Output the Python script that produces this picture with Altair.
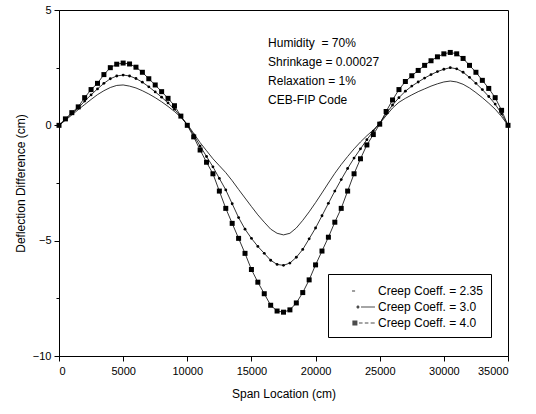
import altair as alt
import pandas as pd

# ---- data -------------------------------------------------------------
span = [0, 500, 1000, 1500, 2000, 2500, 3000, 3500, 4000, 4500,
        5000, 5500, 6000, 6500, 7000, 7500, 8000, 8500, 9000, 9500,
        10000, 10500, 11000, 11500, 12000, 12500, 13000, 13500, 14000, 14500,
        15000, 15500, 16000, 16500, 17000, 17500, 18000, 18500, 19000, 19500,
        20000, 20500, 21000, 21500, 22000, 22500, 23000, 23500, 24000, 24500,
        25000, 25500, 26000, 26500, 27000, 27500, 28000, 28500, 29000, 29500,
        30000, 30500, 31000, 31500, 32000, 32500, 33000, 33500, 34000, 34500,
        35000]

creep_235 = [0, 0.22, 0.45, 0.68, 0.90, 1.12, 1.33, 1.50, 1.64, 1.73,
             1.75, 1.70, 1.62, 1.50, 1.36, 1.20, 1.02, 0.82, 0.60, 0.35,
             0.05, -0.35, -0.75, -1.10, -1.45, -1.75, -2.05, -2.40, -2.78, -3.15,
             -3.52, -3.88, -4.20, -4.50, -4.68, -4.75, -4.68, -4.45, -4.12, -3.75,
             -3.35, -2.93, -2.50, -2.08, -1.70, -1.35, -1.02, -0.72, -0.45, -0.20,
             0.08, 0.42, 0.75, 1.00, 1.17, 1.32, 1.46, 1.58, 1.70, 1.80,
             1.88, 1.92, 1.88, 1.78, 1.62, 1.42, 1.20, 0.96, 0.70, 0.38,
             0]

creep_30 = [0, 0.25, 0.50, 0.75, 1.05, 1.32, 1.58, 1.82, 2.02, 2.14,
            2.18, 2.14, 2.03, 1.87, 1.67, 1.45, 1.22, 0.97, 0.70, 0.38,
            0.02, -0.42, -0.90, -1.35, -1.80, -2.30, -2.80, -3.40, -4.00, -4.50,
            -4.90, -5.25, -5.55, -5.85, -6.03, -6.07, -5.97, -5.72, -5.38, -4.92,
            -4.45, -3.92, -3.38, -2.85, -2.35, -1.87, -1.42, -1.02, -0.62, -0.25,
            0.10, 0.50, 0.88, 1.20, 1.48, 1.70, 1.88, 2.05, 2.20, 2.33,
            2.43, 2.50, 2.45, 2.30, 2.08, 1.82, 1.55, 1.25, 0.92, 0.50,
            0]

creep_40 = [0, 0.28, 0.55, 0.80, 1.20, 1.55, 1.82, 2.20, 2.50, 2.65,
            2.70, 2.66, 2.52, 2.30, 2.02, 1.75, 1.46, 1.17, 0.85, 0.40,
            0.0, -0.50, -1.07, -1.60, -2.10, -2.85, -3.60, -4.25, -4.90, -5.55,
            -6.25, -6.80, -7.30, -7.80, -8.05, -8.10, -8.00, -7.70, -7.25, -6.70,
            -6.05, -5.45, -4.85, -4.20, -3.60, -2.85, -2.10, -1.45, -0.85, -0.40,
            0.05, 0.60, 1.10, 1.55, 1.90, 2.15, 2.38, 2.60, 2.80, 2.97,
            3.10, 3.16, 3.10, 2.90, 2.60, 2.30, 1.95, 1.60, 1.20, 0.65,
            0]

series_names = ["Creep Coeff. = 2.35", "Creep Coeff. = 3.0", "Creep Coeff. = 4.0"]

x_ticks = [0, 2500, 5000, 7500, 10000, 12500, 15000, 17500, 20000,
           22500, 25000, 27500, 30000, 32500, 35000]
y_ticks = [-10, -7.5, -5, -2.5, 0, 2.5, 5]

ann_text = ["Humidity\u00a0\u00a0= 70%", "Shrinkage = 0.00027",
            "Relaxation = 1%", "CEB-FIP Code"]
ann_x = [16300, 16300, 16300, 16300]
ann_y = [3.57, 2.76, 1.92, 1.10]

# ---- tables -------------------------------------------------------------
rows = []
for name, vals in zip(series_names, [creep_235, creep_30, creep_40]):
    for xv, yv in zip(span, vals):
        rows.append({"span": xv, "defl": yv, "series": name})
df = pd.DataFrame(rows)
ann = pd.DataFrame({"text": ann_text, "x": ann_x, "y": ann_y})

FONT = "Liberation Sans"

xscale = alt.Scale(domain=[0, 35000], nice=False, zero=False)
yscale = alt.Scale(domain=[-10, 5], nice=False, zero=False)

xaxis = alt.Axis(
    values=x_ticks, format="d", grid=False,
    labelExpr="datum.value % 5000 === 0 ? datum.label : ''",
    tickSize={"condition": {"test": "datum.value % 5000 === 0", "value": 5}, "value": 3},
    title="Span Location (cm)", titlePadding=12,
    labelPadding=4,
)
yaxis = alt.Axis(
    values=y_ticks, format="d", grid=False,
    labelExpr="datum.value % 5 === 0 ? datum.label : ''",
    tickSize={"condition": {"test": "datum.value % 5 === 0", "value": 5}, "value": 3},
    title="Deflection Difference (cm)", titlePadding=5,
    labelPadding=3,
)

base = alt.Chart(df).encode(
    x=alt.X("span:Q", scale=xscale, axis=xaxis),
    y=alt.Y("defl:Q", scale=yscale, axis=yaxis),
)

lines = base.mark_line(color="black", strokeWidth=0.8).encode(detail="series:N")

points = base.transform_filter(
    alt.datum.series != series_names[0]
).mark_point(filled=True, color="black", opacity=1).encode(
    shape=alt.Shape("series:N", scale=alt.Scale(domain=series_names[1:], range=["circle", "square"]), legend=None),
    size=alt.Size("series:N", scale=alt.Scale(domain=series_names[1:], range=[8, 25]), legend=None),
)

sym_235 = "M0.78,-0.06H1.12V0.06H0.78Z"
sym_30 = ("M1.27,0A0.17,0.17 0 1,0 1.61,0A0.17,0.17 0 1,0 1.27,0Z"
          "M1.78,-0.05H3.33V0.05H1.78Z")
sym_40 = ("M0.82,-0.28H1.38V0.28H0.82Z"
          "M1.55,-0.05H1.95V0.05H1.55Z"
          "M2.2,-0.05H2.6V0.05H2.2Z"
          "M2.85,-0.05H3.3V0.05H2.85Z")

legend_layer = base.transform_filter("datum.span < 0").mark_point(
    filled=True, color="black"
).encode(
    shape=alt.Shape(
        "series:N",
        scale=alt.Scale(domain=series_names, range=[sym_235, sym_30, sym_40]),
        legend=alt.Legend(
            title=None, orient="none", legendX=269, legendY=264,
            strokeColor="black", fillColor="white", padding=8,
            symbolSize=324, symbolStrokeWidth=0, symbolFillColor="black",
            labelOffset=24, labelFont=FONT, labelFontSize=12, labelColor="black",
            rowPadding=1, labelLimit=200,
        ),
    )
)

text = alt.Chart(ann).mark_text(
    align="left", baseline="middle", font=FONT, fontSize=12, color="black"
).encode(
    x=alt.X("x:Q", scale=xscale),
    y=alt.Y("y:Q", scale=yscale),
    text="text:N",
)

chart = alt.layer(lines, points, legend_layer, text).resolve_scale(
    shape="independent", size="independent"
).properties(
    width=449, height=346,
    autosize=alt.AutoSizeParams(type="none"),
    padding={"left": 59, "top": 10, "right": 28, "bottom": 58},
    background="white",
).configure_view(
    stroke="black", strokeWidth=1
).configure_axis(
    domainColor="black", tickColor="black", labelColor="black", titleColor="black",
    labelFont=FONT, titleFont=FONT, labelFontSize=11, titleFontSize=12,
    titleFontWeight="normal", domainWidth=1, tickWidth=1,
)

chart.save("out.html", embed_options={"renderer": "svg", "actions": False})
